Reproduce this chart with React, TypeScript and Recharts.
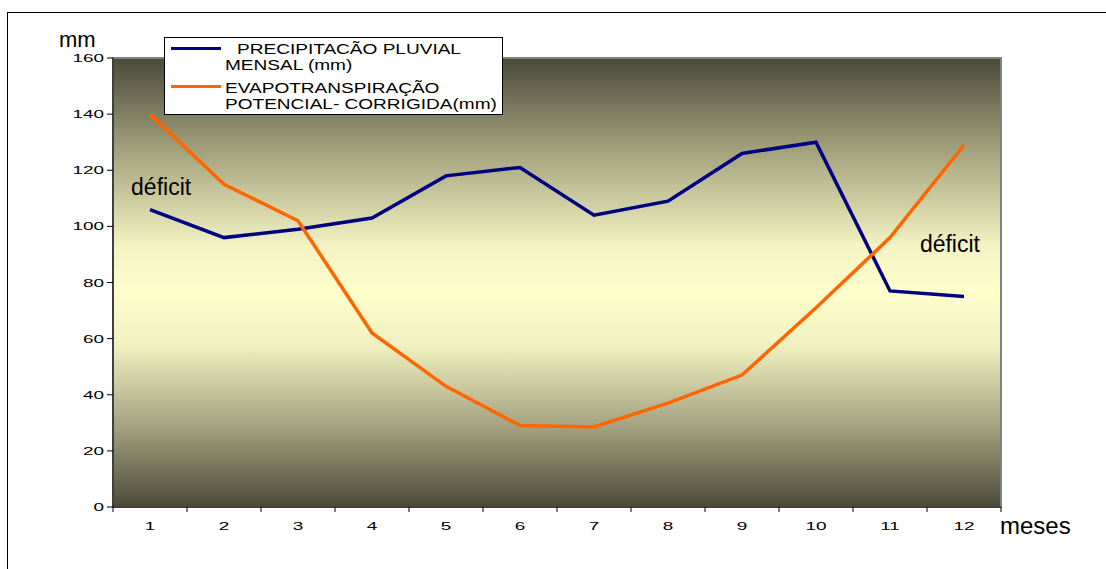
import React from "react";
import {
  LineChart,
  Line,
  XAxis,
  YAxis,
  CartesianGrid,
  ReferenceArea,
  ReferenceDot,
} from "recharts";

const MESES = [1, 2, 3, 4, 5, 6, 7, 8, 9, 10, 11, 12];
const PRECIPITACAO = [106, 96, 99, 103, 118, 121, 104, 109, 126, 130, 77, 75];
const EVAPOTRANSPIRACAO = [140, 115, 102, 62, 43, 29, 28.5, 37, 47, 71, 96, 129];
const Y_TICKS = [0, 20, 40, 60, 80, 100, 120, 140, 160];
// ticks at band borders (half values) and labels at the centers
const X_TICKS = [0.5, 1, 1.5, 2, 2.5, 3, 3.5, 4, 4.5, 5, 5.5, 6, 6.5, 7, 7.5, 8, 8.5, 9, 9.5, 10, 10.5, 11, 11.5, 12, 12.5];

const FONT = "Arial, 'Liberation Sans', sans-serif";
const STRETCH = 1.72; // the tick numbers are drawn wide in the original

const data = MESES.map((mes, i) => ({
  mes,
  precip: PRECIPITACAO[i],
  etp: EVAPOTRANSPIRACAO[i],
}));

const MonthTick = (props: any) => {
  const { x, y, payload } = props;
  const v = payload.value;
  if (!Number.isInteger(v)) {
    return <line x1={x} x2={x} y1={y} y2={y + 5} stroke="#000" strokeWidth={1} />;
  }
  return (
    <text
      transform={`translate(${x},${y + 23}) scale(${STRETCH},1)`}
      textAnchor="middle"
      fontSize={11}
      fontFamily={FONT}
      fill="#000"
    >
      {v}
    </text>
  );
};

const ValueTick = (props: any) => {
  const { x, y, payload } = props;
  return (
    <text
      transform={`translate(${x},${y + 4}) scale(${STRETCH},1)`}
      textAnchor="end"
      fontSize={11}
      fontFamily={FONT}
      fill="#000"
    >
      {payload.value}
    </text>
  );
};

const legendText: React.CSSProperties = {
  position: "absolute",
  whiteSpace: "nowrap",
  transform: "scaleX(1.36)",
  transformOrigin: "left top",
};

const LegendBox = () => (
  <div
    style={{
      position: "absolute",
      left: 164,
      top: 37,
      width: 337,
      height: 76,
      background: "#fff",
      border: "1px solid #000",
      fontFamily: FONT,
      fontSize: 14,
      lineHeight: "16px",
      color: "#000",
    }}
  >
    <div style={{ position: "absolute", left: 6, top: 9, width: 50, height: 3, background: "#000080" }} />
    <div style={{ ...legendText, left: 72, top: 3 }}>PRECIPITACÃO PLUVIAL</div>
    <div style={{ ...legendText, left: 60, top: 19 }}>MENSAL (mm)</div>
    <div style={{ position: "absolute", left: 6, top: 47, width: 50, height: 3, background: "#ff6600" }} />
    <div style={{ ...legendText, left: 60, top: 42 }}>EVAPOTRANSPIRAÇÃO</div>
    <div style={{ ...legendText, left: 60, top: 58 }}>POTENCIAL- CORRIGIDA(mm)</div>
  </div>
);

export default function App() {
  return (
    <div style={{ position: "absolute", left: 0, top: 0, width: 1106, height: 569, overflow: "hidden", background: "#fff" }}>
      <svg width={0} height={0} style={{ position: "absolute" }}>
        <defs>
          <linearGradient id="fundo" x1="0" y1="0" x2="0" y2="1">
            <stop offset="0%" stopColor="#4b4a39" />
            <stop offset="22%" stopColor="#a9a781" />
            <stop offset="42%" stopColor="#f3f3c3" />
            <stop offset="52%" stopColor="#ffffcc" />
            <stop offset="64%" stopColor="#f0f0c0" />
            <stop offset="82%" stopColor="#a4a280" />
            <stop offset="100%" stopColor="#4b4a39" />
          </linearGradient>
        </defs>
      </svg>
      <div
        style={{
          position: "absolute",
          left: 7,
          top: 12,
          width: 1120,
          height: 600,
          border: "1px solid #000",
        }}
      />
      <div style={{ position: "absolute", left: 59, top: 33, fontFamily: FONT, fontSize: 22, lineHeight: "14px" }}>mm</div>
      <div style={{ position: "absolute", left: 1000, top: 517, fontFamily: FONT, fontSize: 24, lineHeight: "18px" }}>meses</div>
      <LineChart
        width={1106}
        height={569}
        data={data}
        margin={{ top: 58, right: 105, bottom: 32, left: 53 }}
        style={{ position: "absolute", left: 0, top: 0 }}
      >
        <ReferenceArea
          x1={0.5}
          x2={12.5}
          y1={0}
          y2={160}
          fill="url(#fundo)"
          fillOpacity={1}
          stroke="#808080"
          strokeWidth={2}
        />
        <CartesianGrid vertical={false} stroke="#000" strokeOpacity={0.85} />
        <XAxis
          dataKey="mes"
          type="number"
          domain={[0.5, 12.5]}
          ticks={X_TICKS}
          interval={0}
          tick={<MonthTick />}
          tickLine={false}
          tickSize={0}
          tickMargin={0}
          height={30}
          axisLine={{ stroke: "#000" }}
        />
        <YAxis
          domain={[0, 160]}
          ticks={Y_TICKS}
          interval={0}
          width={60}
          tickSize={6}
          tickMargin={3}
          axisLine={{ stroke: "#000" }}
          tickLine={{ stroke: "#000" }}
          tick={<ValueTick />}
        />
        <Line
          type="linear"
          dataKey="precip"
          stroke="#000080"
          strokeWidth={3.5}
          dot={false}
          isAnimationActive={false}
        />
        <Line
          type="linear"
          dataKey="etp"
          stroke="#ff6600"
          strokeWidth={3.5}
          dot={false}
          isAnimationActive={false}
        />
        <ReferenceDot
          x={1.15}
          y={114}
          r={1}
          fill="none"
          stroke="none"
          label={{ value: "déficit", position: "center", fontSize: 23, fontFamily: FONT, fill: "#000" }}
        />
        <ReferenceDot
          x={11.81}
          y={93.7}
          r={1}
          fill="none"
          stroke="none"
          label={{ value: "déficit", position: "center", fontSize: 23, fontFamily: FONT, fill: "#000" }}
        />
      </LineChart>
      <LegendBox />
    </div>
  );
}
